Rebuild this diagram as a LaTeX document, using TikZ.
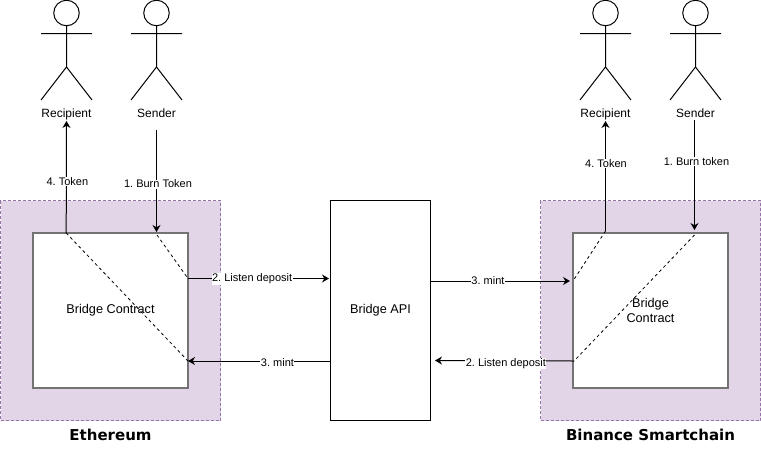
\documentclass[tikz,border=0pt]{standalone}
\usepackage{fontspec}
\setmainfont{Liberation Sans}
\newfontfamily\titlefont{DejaVu Sans}
\usetikzlibrary{arrows.meta,positioning}
\definecolor{framefill}{RGB}{225, 213, 231}
\definecolor{framedraw}{RGB}{150, 115, 166}
\definecolor{boxgray}{RGB}{115, 115, 115}
\frenchspacing
% one stick figure, head node named #1
\newcommand{\stickman}[2]{%
	\node[head](#1) at (#2,13) {};
	\draw[limb] (#1.south) -- (#2,67) (#2-25.5,33.7) -- (#2+25.5,33.7) (#2-25.5,100) -- (#2,67) -- (#2+25.5,100);
}
\begin{document}
\begin{tikzpicture}[x=1pt, y=-1pt, >=Stealth,
			head/.style={draw=black, circle, minimum size=25.5pt, inner sep=0pt, outer sep=0pt, line width=1pt},
			limb/.style={line width=1pt, color=black},
			actorname/.style={font=\fontsize{12}{14}\selectfont, inner sep=1pt, text height=9pt, text depth=2.5pt},
			chainframe/.style={draw=framedraw, fill=framefill, dashed, dash pattern=on 3pt off 2pt, line width=0.8pt, minimum width=220pt, minimum height=220pt, outer sep=0pt},
			contract/.style={draw=boxgray, fill=white, line width=2pt, minimum width=155pt, minimum height=155pt, align=center, inner sep=0pt, outer sep=0pt, font=\fontsize{12.7}{15}\selectfont},
			apibox/.style={draw=black, fill=white, line width=1pt, minimum width=100pt, minimum height=220pt, outer sep=0pt, font=\fontsize{12.7}{14}\selectfont},
			chainname/.style={font=\titlefont\bfseries\fontsize{15}{18}\selectfont, inner sep=0pt},
			flow/.style={line width=1pt, ->, color=black, >={Stealth[length=7pt,width=8pt]}},
			inside/.style={line width=0.8pt, dash pattern=on 3pt off 3pt, color=black},
			step label/.style={fill=white, inner sep=0.5pt, font=\fontsize{11}{13}\selectfont, text=black}
			]
			\useasboundingbox (0,0) rectangle (761,451);
			
			\node[chainframe](ethframe) at (110.5,310.5) {};
			\node[chainframe](bscframe) at (650.5,310.5) {};
			\node[contract](ethbox) at (110.5,310.5) {Bridge Contract};
			\node[contract](bscbox) at (650.5,310.5) {Bridge\\Contract};
			\node[apibox](api) at (380.5,310.5) {Bridge API};
			\node[chainname](ethname) [below = 8pt of ethframe] {Ethereum};
			\node[chainname](bscname) [below = 8pt of bscframe] {Binance Smartchain};
			
			\stickman{ethrechead}{66.5}
			\stickman{ethsendhead}{156.5}
			\stickman{bscrechead}{605.5}
			\stickman{bscsendhead}{695.5}
			\node[actorname](ethrec) at (66.5,114) {Recipient};
			\node[actorname](ethsend) at (156.5,114) {Sender};
			\node[actorname](bscrec) at (605.5,114) {Recipient};
			\node[actorname](bscsend) at (695.5,114) {Sender};
			
			% free ends of the arrows
			\coordinate (ethtop1) at (66.2,233);
			\coordinate (ethtop2) at (156.5,232);
			\coordinate (ethright1) at (188,278.5);
			\coordinate (ethright2) at (188,361);
			\coordinate (bsctop1) at (605.5,231);
			\coordinate (bsctop2) at (694.5,230);
			\coordinate (bscleft1) at (570,281);
			\coordinate (bscleft2) at (574,361);
			\coordinate (ethburn) at (156.5,130);
			\coordinate (bscburn) at (694.5,120);
			\coordinate (apiin1) at (329,278.5);
			\coordinate (apiout1) at (330,361);
			\coordinate (apiout2) at (431,281);
			\coordinate (apiin2) at (435,360.5);
			
			\draw[flow] (ethtop1) -- node[step label, pos=0.46, xshift=1pt] {4. Token} (ethrec);
			\draw[flow] (ethburn) -- node[step label, pos=0.53, xshift=1.5pt] {1. Burn Token} (ethtop2);
			\draw[flow] (ethright1) -- node[step label, pos=0.455, yshift=-0.5pt] {2. Listen deposit} (apiin1);
			\draw[flow] (apiout1) -- node[step label, pos=0.37, yshift=-2pt] {3. mint} (ethright2);
			\draw[flow] (apiout2) -- node[step label, pos=0.41] {3. mint} (bscleft1);
			\draw[flow] (bscleft2) -- node[step label, pos=0.49, yshift=-3pt] {2. Listen deposit} (apiin2);
			\draw[flow] (bsctop1) -- node[step label, pos=0.61, xshift=0.5pt] {4. Token} (bscrec);
			\draw[flow] (bscburn) -- node[step label, pos=0.38, xshift=2pt] {1. Burn token} (bsctop2);
			
			\draw[inside] (ethtop1) -- (ethright2);
			\draw[inside] (157,235) -- (ethright1);
			\draw[inside] (bsctop1) -- (573,281);
			\draw[inside] (694.5,235) -- (bscleft2);
			\end{tikzpicture}
\end{document}
